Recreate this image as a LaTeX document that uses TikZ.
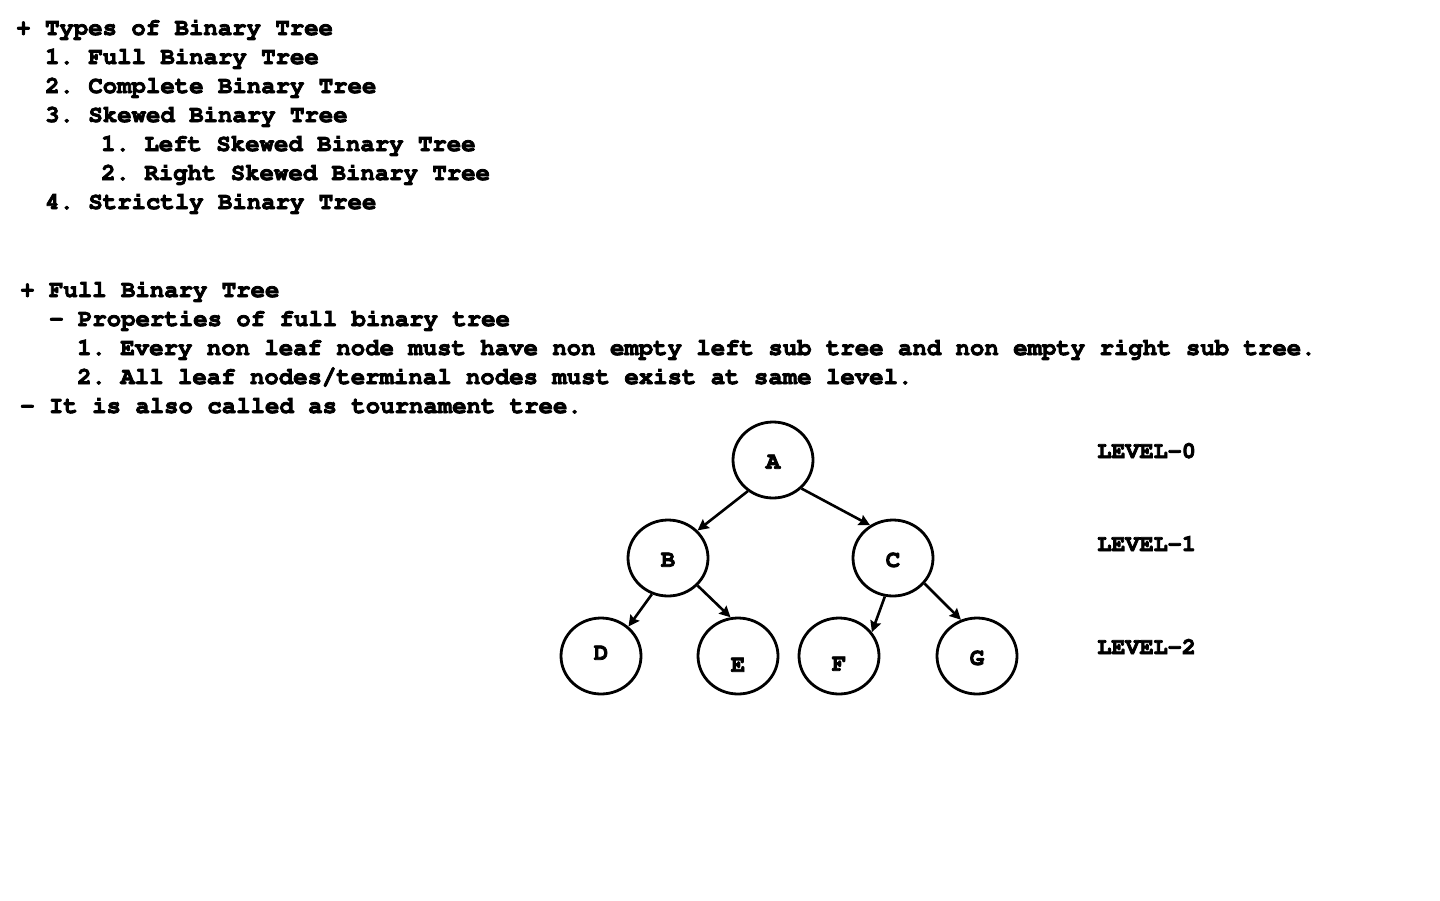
\documentclass[tikz,border=0pt]{standalone}
\usepackage[T1]{fontenc}
\usepackage{courier}
\usepackage{tikz}
\usetikzlibrary{
    shapes.geometric,
    arrows.meta,
    positioning,
}
\frenchspacing
\newcommand{\heavyon}{\special{pdf:literal direct 2 Tr 0.8 w}}
\newcommand{\heavyoff}{\special{pdf:literal direct 0 Tr}}
\tikzset{
    vertex/.style = {
        ellipse,
        minimum width=80pt,
        minimum height=76pt,
        inner sep=0pt,
        line width=2.8pt,
        draw,
    },
    listline/.style = {
        anchor=base west,
        inner sep=0pt,
        font=\fontsize{24}{29}\ttfamily\bfseries\frenchspacing,
        execute at begin node=\heavyon,
        execute at end node=\heavyoff,
    },
    levelname/.style = {
        anchor=base west,
        inner sep=0pt,
        font=\fontsize{23.5}{28}\ttfamily\bfseries,
        execute at begin node=\heavyon,
        execute at end node=\heavyoff,
    },
}
\tikzstyle{arrow} = [
    line width=2.6pt,
    -{Stealth[length=11pt,width=11pt,inset=1.5pt]},
]

\begin{document}
\begin{tikzpicture}[x=1pt,y=-1pt]
        \useasboundingbox (0,0) rectangle (1440,900);
        \tikzstyle{every label}=[font=\fontsize{24}{28}\ttfamily\bfseries, inner sep=0pt,
            execute at begin node=\heavyon, execute at end node=\heavyoff]

        % list of types
        \node [listline] (types) at (16,35) {+ Types of Binary Tree};
        \node [listline] (full) at (45,64) {1. Full Binary Tree};
        \node [listline] (complete) at (45,93) {2. Complete Binary Tree};
        \node [listline] (skewed) at (45,122) {3. Skewed Binary Tree};
        \node [listline] (leftSkewed) at (101,151) {1. Left Skewed Binary Tree};
        \node [listline] (rightSkewed) at (101,180) {2. Right Skewed Binary Tree};
        \node [listline] (strictly) at (45,209) {4. Strictly Binary Tree};

        % full binary tree
        \node [listline] (fullHead) at (20,297) {+ Full Binary Tree};
        \node [listline] (props) at (49,326) {- Properties of full binary tree};
        \node [listline] (prop1) at (77,355) {1. Every non leaf node must have non empty left sub tree and non empty right sub tree.};
        \node [listline] (prop2) at (77,384) {2. All leaf nodes/terminal nodes must exist at same level.};
        \node [listline] (tournament) at (20,413) {- It is also called as tournament tree.};

        % the tree
        \node [vertex, label={[yshift=-2pt]center:A}] (A) at (773,460) {};
        \node [vertex, label={[yshift=-2pt]center:B}] (B) at (668,558) {};
        \node [vertex, label={[yshift=-2pt]center:C}] (C) at (893,558) {};
        \node [vertex, label={[yshift=3pt]center:D}] (D) at (601,656) {};
        \node [vertex, label={[yshift=-9pt]center:E}] (E) at (738,656) {};
        \node [vertex, label={[yshift=-8pt]center:F}] (F) at (839,656) {};
        \node [vertex, label={[yshift=-2pt]center:G}] (G) at (977,656) {};

        \node [levelname] (level0) at (1097,458) {LEVEL-0};
        \node [levelname] (level1) at (1097,551) {LEVEL-1};
        \node [levelname] (level2) at (1097,654) {LEVEL-2};

        \draw [arrow] (A.-129) -- (B.43);
        \draw [arrow] (A.-45) -- (C.125);
        \draw [arrow] (B.-114) -- (D.47);
        \draw [arrow] (B.-43) -- (E.101);
        \draw [arrow] (C.-102) -- (F.36);
        \draw [arrow] (C.-39) -- (G.114);

    \end{tikzpicture}
\end{document}
